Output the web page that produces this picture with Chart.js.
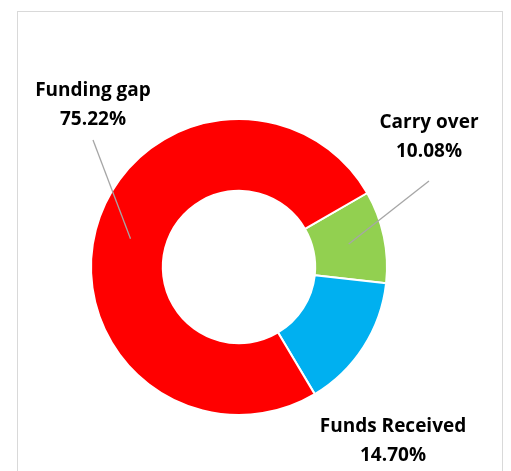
<!DOCTYPE html>
<html>
<head>
<meta charset="utf-8">
<script src="https://cdn.jsdelivr.net/npm/chart.js@4"></script>
<style>
  html, body { margin: 0; padding: 0; background: #fff; }
  #wrap { width: 511px; height: 471px; position: relative; }
</style>
</head>
<body>
<div id="wrap"><canvas id="c" width="511" height="471"></canvas></div>
<script>
// Data
const categories = ["Carry over", "Funds Received", "Funding gap"];
const values = [10.08, 14.70, 75.22];
const valueLabels = ["10.08%", "14.70%", "75.22%"];
const colors = ["#92D050", "#00B0F0", "#FF0000"];

// Label placement (layout only)
const labelLayout = [
  { x: 429, y: 128, leader: true, leaderStartY: 181 },
  { x: 393, y: 432, leader: false },
  { x: 93,  y: 96,  leader: true, leaderStartY: 140 }
];
const FONT = "bold 19px 'Open Sans', Lato, sans-serif";
const LINE_GAP = 29;

const framePlugin = {
  id: 'frame',
  beforeDraw(chart) {
    const ctx = chart.ctx;
    ctx.save();
    ctx.fillStyle = '#ffffff';
    ctx.fillRect(0, 0, chart.width, chart.height);
    ctx.strokeStyle = '#d9d9d9';
    ctx.lineWidth = 1;
    ctx.strokeRect(17.5, 11.5, 485, 480);
    ctx.restore();
  }
};

const labelPlugin = {
  id: 'sliceLabels',
  afterDatasetsDraw(chart) {
    const ctx = chart.ctx;
    const meta = chart.getDatasetMeta(0);
    ctx.save();
    meta.data.forEach((arc, i) => {
      const L = labelLayout[i];
      if (L.leader) {
        const p = arc.getCenterPoint();
        ctx.strokeStyle = '#a6a6a6';
        ctx.lineWidth = 1.3;
        ctx.beginPath();
        ctx.moveTo(L.x, L.leaderStartY);
        ctx.lineTo(p.x, p.y);
        ctx.stroke();
      }
      ctx.fillStyle = '#000000';
      ctx.font = FONT;
      ctx.textAlign = 'center';
      ctx.textBaseline = 'alphabetic';
      ctx.fillText(categories[i], L.x, L.y);
      ctx.fillText(valueLabels[i], L.x, L.y + LINE_GAP);
    });
    ctx.restore();
  }
};

new Chart(document.getElementById('c'), {
  type: 'doughnut',
  data: {
    labels: categories,
    datasets: [{
      data: values,
      backgroundColor: colors,
      borderColor: '#ffffff',
      borderWidth: 2,
      hoverBorderWidth: 2
    }]
  },
  options: {
    responsive: false,
    animation: false,
    devicePixelRatio: 1,
    rotation: 60,
    radius: 148,
    cutout: '51.5%',
    layout: { padding: { left: 0, right: 33, top: 63, bottom: 0 } },
    plugins: {
      legend: { display: false },
      tooltip: { enabled: false },
      title: { display: false }
    }
  },
  plugins: [framePlugin, labelPlugin]
});
</script>
</body>
</html>
